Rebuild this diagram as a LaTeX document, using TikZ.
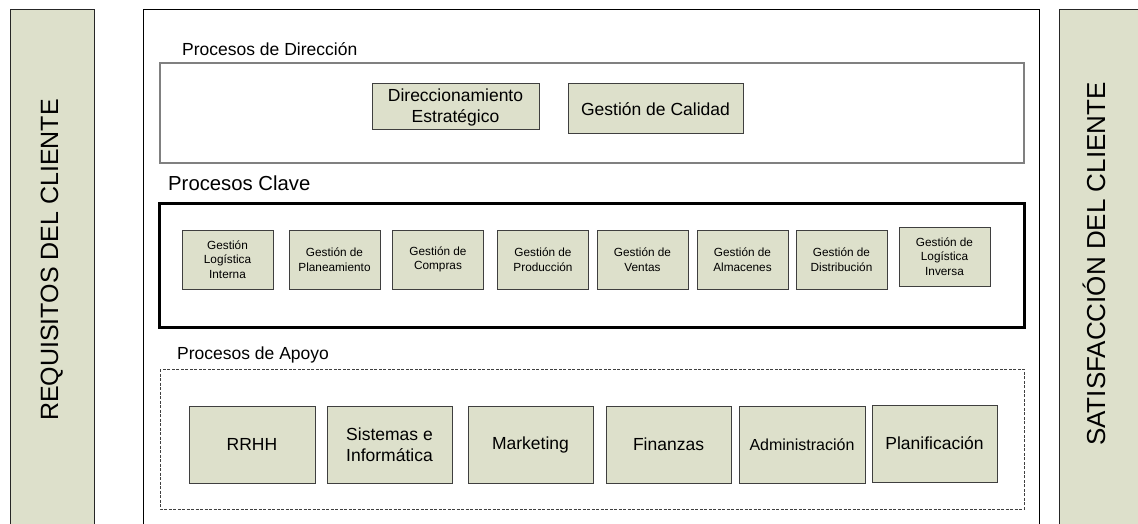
\documentclass[tikz,border=0pt]{standalone}
\usepackage{fontspec}
\setmainfont{Liberation Sans}
\usetikzlibrary{calc, positioning}
\definecolor{procfill}{HTML}{DDE0CB}
\definecolor{procline}{HTML}{3F3F3F}
\tikzstyle{frame}      = [draw=black,line width=1pt]
\tikzstyle{sidebar}    = [draw=black!85,fill=procfill,line width=1pt]
\tikzstyle{sidetext}   = [rotate=90,anchor=base,inner sep=0,font=\fontsize{25}{30}\selectfont]
\tikzstyle{dirbox}     = [draw=black!50,line width=1.5pt]
\tikzstyle{keybox}     = [draw=black,line width=3pt]
\tikzstyle{supbox}     = [draw=black!75,line width=1pt,dash pattern=on 3pt off 1.5pt]
\tikzstyle{grouptitle} = [anchor=base west,inner sep=0,font=\fontsize{17.5}{21}\selectfont]
\tikzstyle{process}    = [rectangle,draw=procline,fill=procfill,line width=1pt,align=center,inner sep=0,font=\fontsize{17.5}{21}\selectfont]
\tikzstyle{keyprocess} = [process,minimum width=91pt,minimum height=59pt,font=\fontsize{11.8}{14.5}\selectfont]
\tikzstyle{support}    = [process,minimum width=125pt,minimum height=77pt]

\begin{document}
\begin{tikzpicture}[x=1pt,y=-1pt]
        \useasboundingbox (0,0) rectangle (1138,524);
        \clip (0,0) rectangle (1138,524);

        \draw[sidebar] (10,10) rectangle (94,540);
        \draw[sidebar] (1059,10) rectangle (1150,540);
        \draw[frame]   (143,10) rectangle (1039,540);
        \node[sidetext] (requisitos)   at (58,260)   {REQUISITOS DEL CLIENTE};
        \node[sidetext,font=\fontsize{26}{31}\selectfont] (satisfaccion) at (1105,264) {SATISFACCIÓN DEL CLIENTE};

        \draw[dirbox] (160,63) rectangle (1024,163);
        \node[grouptitle] (dir title) at (182,56) {Procesos de Dirección};
        \node[process,minimum width=167pt,minimum height=46pt] (direccionamiento) at (455.5,107) {Direccionamiento\\ Estratégico};
        \node[process,minimum width=175pt,minimum height=50pt] (calidad)          at (655.5,109) {Gestión de Calidad};

        \draw[keybox] (159,203) rectangle (1024,327);
        \node[grouptitle,font=\fontsize{20.3}{24}\selectfont] (key title) at (168,190) {Procesos Clave};
        \node[keyprocess] (logistica interna) at (227.5,259.5) {Gestión\\ Logística\\ Interna};
        \node[keyprocess] (planeamiento)      at (334.5,259.5) {Gestión de\\ Planeamiento};
        \node[keyprocess] (compras)           at (438,259.5)   {Gestión de\\ Compras};
        \node[keyprocess] (produccion)        at (543,259.5)   {Gestión de\\ Producción};
        \node[keyprocess] (ventas)            at (642.5,259.5) {Gestión de\\ Ventas};
        \node[keyprocess] (almacenes)         at (742.5,259.5) {Gestión de\\ Almacenes};
        \node[keyprocess] (distribucion)      at (841.5,259.5) {Gestión de\\ Distribución};
        \node[keyprocess] (logistica inversa) at (944.5,256.5) {Gestión de\\ Logística\\ Inversa};

        \draw[supbox] (160,369) rectangle (1024,509);
        \node[grouptitle] (sup title) at (177,359) {Procesos de Apoyo};
        \node[support,minimum width=126pt] (rrhh)           at (252,444.5)   {RRHH};
        \node[support]                     (sistemas)       at (389.5,444.5) {Sistemas e\\ Informática};
        \node[support]                     (marketing)      at (530.5,444.5) {Marketing};
        \node[support]                     (finanzas)       at (668.5,444.5) {Finanzas};
        \node[support,minimum width=126pt,font=\fontsize{16}{19}\selectfont] (administracion) at (802,444.5) {Administración};
        \node[support]                     (planificacion)  at (934.5,443.5) {Planificación};
\end{tikzpicture}
\end{document}
